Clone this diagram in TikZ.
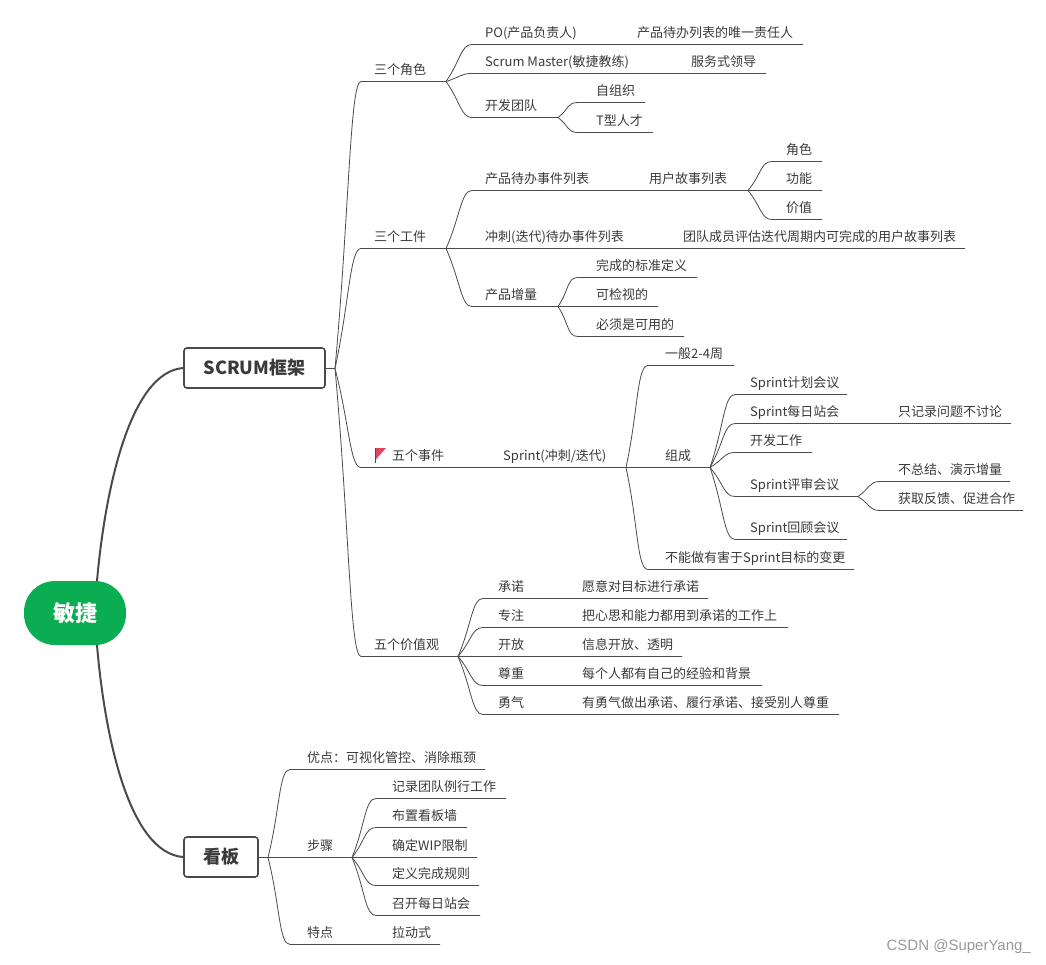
\documentclass[tikz,border=0pt]{standalone}
\usepackage{fontspec}
\setmainfont{Noto Sans CJK SC}
\newfontfamily\markfont{Liberation Sans}
\usepackage{xcolor}
\usepackage{tikz}
\usetikzlibrary{calc}
\definecolor{rootgreen}{HTML}{0AAD52}
\definecolor{linegray}{HTML}{4A4A4A}
\definecolor{textgray}{HTML}{3A3A3A}
\definecolor{flagred}{HTML}{E5425F}

\begin{document}
\begin{tikzpicture}[
  x=1pt, y=-1pt,
  every node/.style={font=\fontsize{13}{15}\selectfont, text=textgray},
  root/.style={rectangle, rounded corners=31pt, fill=rootgreen, minimum width=102pt,
               minimum height=64pt, inner sep=0pt,
               font=\fontsize{22}{26}\bfseries\selectfont, text=white},
  cat/.style={rectangle, rounded corners=3pt, draw=linegray, line width=1.6pt, fill=white,
              minimum height=40pt, inner sep=0pt,
              font=\fontsize{18}{22}\bfseries\selectfont},
  topic/.style={anchor=base west, inner sep=0pt, yshift=6.5pt},
  thickedge/.style={draw=linegray, line width=2pt},
  thinedge/.style={draw=linegray, line width=.8pt}]

\useasboundingbox (0,0) rectangle (1046,965);

\node[root] (agile) at (75,613) {\raisebox{-1pt}{敏捷}};
\node[cat, minimum width=141pt] (scrum) at (254.5,368) {SCRUM框架};
\node[cat, minimum width=74pt] (kanban) at (221,857) {看板};

\draw[thickedge] (97,581) .. controls (105,490) and (130,372) .. (scrum.west);
\draw[thickedge] (97,645) .. controls (105,740) and (130,853) .. (kanban.west);

\coordinate (scrumj) at (335,368.5);
\coordinate (kanbanj) at (268,857.5);
\draw[thinedge] (scrum.east |- scrumj) -- (scrumj);
\draw[thinedge] (kanban.east |- kanbanj) -- (kanbanj);

% every topic: name / parent / line start / line y / text x / line end / text
\foreach \name/\from/\sx/\ly/\tx/\ex/\txt in {
  roles/scrum/361/81/374/446/{三个角色},
  po/roles/472/44/485/625/{PO(产品负责人)},
  podesc/po/625/44/637/803/{产品待办列表的唯一责任人},
  sm/roles/472/73/485/680/{Scrum Master(敏捷教练)},
  smdesc/sm/680/73/691/766/{服务式领导},
  devteam/roles/472/117/485/558/{开发团队},
  selforg/devteam/578/102/596/645/{自组织},
  tshape/devteam/578/132/596/653/{T型人才},
  artifacts/scrum/361/248/374/446/{三个工件},
  backlog/artifacts/472/190/485/640/{产品待办事件列表},
  stories/backlog/640/190/649/748/{用户故事列表},
  storyrole/stories/772/161/786/822/{角色},
  storyfunc/stories/772/190/786/822/{功能},
  storyval/stories/772/219/786/822/{价值},
  sprintlog/artifacts/472/248/485/670/{冲刺(迭代)待办事件列表},
  sprintdesc/sprintlog/670/248/683/965/{团队成员评估迭代周期内可完成的用户故事列表},
  increment/artifacts/472/306/485/558/{产品增量},
  donedef/increment/578/277/596/697/{完成的标准定义},
  inspect/increment/578/306/596/658/{可检视的},
  usable/increment/578/336/596/684/{必须是可用的},
  events/scrum/361/467/392/495/{五个事件},
  sprint/events/495/467/503/626/{Sprint(冲刺/迭代)},
  period/sprint/648/365/665/734/{一般2-4周},
  parts/sprint/648/467/665/710/{组成},
  planning/parts/735/394/750/847/{Sprint计划会议},
  daily/parts/735/423/750/885/{Sprint每日站会},
  dailydesc/daily/885/423/898/1011/{只记录问题不讨论},
  devwork/parts/735/452/750/812/{开发工作},
  review/parts/735/496/750/858/{Sprint评审会议},
  revone/review/880/481/898/1010/{不总结、演示增量},
  revtwo/review/880/510/898/1023/{获取反馈、促进合作},
  retro/parts/735/539/750/847/{Sprint回顾会议},
  nochange/sprint/648/569/665/854/{不能做有害于Sprint目标的变更},
  values/scrum/361/656/374/458/{五个价值观},
  commit/values/483/598/498/572/{承诺},
  commitd/commit/572/598/582/708/{愿意对目标进行承诺},
  focus/values/483/627/498/572/{专注},
  focusd/focus/572/627/582/788/{把心思和能力都用到承诺的工作上},
  open/values/483/656/498/572/{开放},
  opend/open/572/656/582/682/{信息开放、透明},
  respect/values/483/685/498/572/{尊重},
  respectd/respect/572/685/582/762/{每个人都有自己的经验和背景},
  courage/values/483/714/498/572/{勇气},
  couraged/courage/572/714/582/839/{有勇气做出承诺、履行承诺、接受别人尊重},
  merit/kanban/290/769/307/485/{优点：可视化管控、消除瓶颈},
  steps/kanban/290/857/307/352/{步骤},
  stepa/steps/376/798/392/506/{记录团队例行工作},
  stepb/steps/376/827/392/467/{布置看板墙},
  stepc/steps/376/857/392/477/{确定WIP限制},
  stepd/steps/376/885/392/479/{定义完成规则},
  stepe/steps/376/915/392/480/{召开每日站会},
  trait/kanban/290/944/307/380/{特点},
  pull/trait/380/944/392/440/{拉动式}} {
  \coordinate[yshift=-.5pt] (\name s) at (\sx,\ly);
  \coordinate[yshift=-.5pt] (\name j) at (\ex,\ly);
  \node[topic] (\name) at (\tx,\ly) {\txt};
  \draw[thinedge] (\from j) .. controls ($(\from j)!.55!(\name s)$) and ($(\name s)+(-11,0)$)
    .. (\name s) -- (\name j);
}

% flag in front of the events topic
\draw[linegray, line width=.9pt] (375.7,448) -- (375.7,463);
\fill[flagred] (376.2,448) -- (386,448) -- (376.2,459) -- cycle;

\node[anchor=east, inner sep=0pt, text=gray!80, font=\markfont\fontsize{15}{17}\selectfont] (mark) at (1031,947) {CSDN @SuperYang\_};
\end{tikzpicture}
\end{document}
